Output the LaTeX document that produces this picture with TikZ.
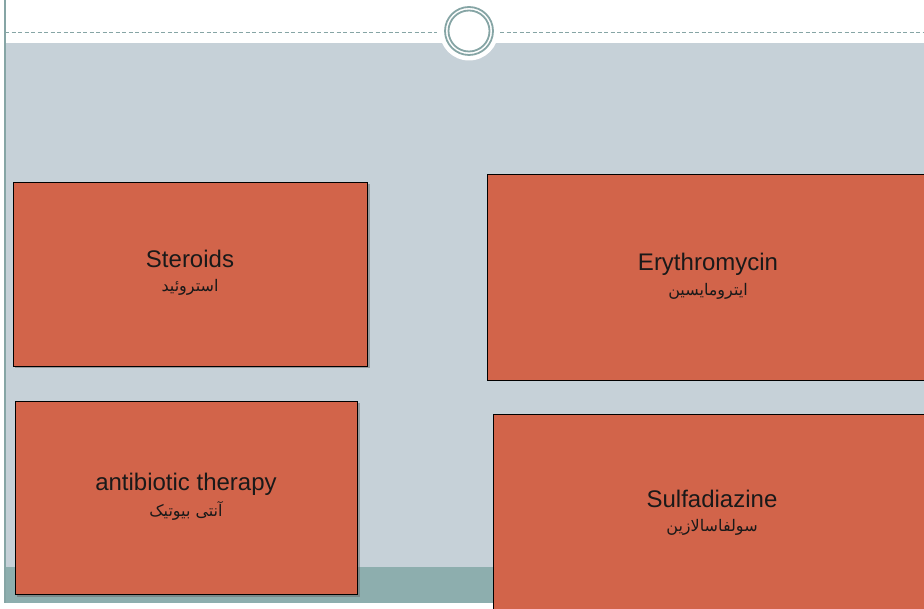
\documentclass[tikz,border=0pt]{standalone}
\usepackage{fontspec}
\setmainfont{Liberation Sans}
\newfontfamily\arabicfont[Script=Arabic]{DejaVu Sans}
\TeXXeTstate=1
\definecolor{bggrey}{HTML}{C6D1D8}
\definecolor{bandteal}{HTML}{8DAEAE}
\definecolor{ringteal}{HTML}{86A5A5}
\definecolor{boxred}{HTML}{D2644A}
\tikzset{
  card/.style={draw=black, line width=1.4pt, fill=boxred, anchor=north west, inner sep=0pt},
  en/.style={font=\fontsize{24}{28}\selectfont, text=black!90},
  fa/.style={font=\arabicfont\fontsize{16}{18}\selectfont, text=black!90}
}
\begin{document}
\begin{tikzpicture}[x=1pt,y=-1pt]
\useasboundingbox (0,0) rectangle (924,609);
\clip (0,0) rectangle (924,609);
\fill[white] (0,0) rectangle (924,609);
% background panels
\fill[bggrey] (5,43) rectangle (924,567);
\fill[bandteal] (5,567) rectangle (924,603);
\draw[ringteal, line width=1.8pt] (5,0) -- (5,603);
% dashed rule
\coordinate (dl1) at (5,32);
\coordinate (dl2) at (437,32);
\coordinate (dr1) at (500,32);
\coordinate (dr2) at (924,32);
\draw[ringteal, line width=0.9pt, dash pattern=on 4pt off 2.5pt] (dl1) -- (dl2);
\draw[ringteal, line width=0.9pt, dash pattern=on 4pt off 2.5pt] (dr1) -- (dr2);
% medallion
\fill[white] (469,31) circle (29.5);
\draw[ringteal, line width=1.8pt] (469,31) circle (24);
\draw[ringteal, line width=1.8pt] (469,31) circle (20.5);
% shadows
\fill[black!60, opacity=0.5] (15,184) rectangle (369.5,368.5);
\fill[black!60, opacity=0.5] (17,403) rectangle (359.5,596.5);
% cards
\node[card, minimum width=354pt, minimum height=184pt] (steroids) at (13,182) {};
\node[card, minimum width=445pt, minimum height=206pt] (ery) at (487,174) {};
\node[card, minimum width=342pt, minimum height=193pt] (anti) at (15,401) {};
\node[card, minimum width=440pt, minimum height=210pt] (sulfa) at (493,414) {};
% labels
\node[en] (t1) at (190,259) {Steroids};
\node[fa] (a1) at (190,287) {\beginR استروئید\endR};
\node[en] (t2) at (708,264) {Erythromycin};
\node[fa] (a2) at (708,291) {\beginR ایترومایسین\endR};
\node[en] (t3) at (186,484) {antibiotic therapy};
\node[fa] (a3) at (186,511) {\beginR آنتی بیوتیک\endR};
\node[en] (t4) at (712,499) {Sulfadiazine};
\node[fa] (a4) at (712,527) {\beginR سولفاسالازین\endR};
\end{tikzpicture}
\end{document}
